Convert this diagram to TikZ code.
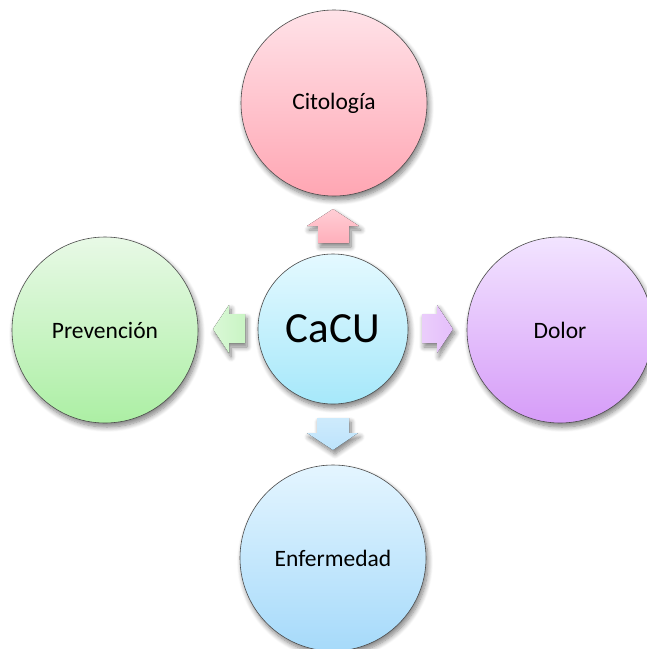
\documentclass[tikz,border=0pt]{standalone}
\usepackage{fontspec}
\setmainfont{Carlito}
\usetikzlibrary{shadows.blur}
\definecolor{pinkA}{HTML}{FFE2E8}
\definecolor{pinkB}{HTML}{FFA6B3}
\definecolor{cyanA}{HTML}{E4F9FF}
\definecolor{cyanB}{HTML}{A6E8FA}
\definecolor{lilaA}{HTML}{F2E4FF}
\definecolor{lilaB}{HTML}{D69CF8}
\definecolor{mintA}{HTML}{E8F9E6}
\definecolor{mintB}{HTML}{ACEFA4}
\definecolor{skyA}{HTML}{E4F5FF}
\definecolor{skyB}{HTML}{A6DAFA}
\begin{document}
\begin{tikzpicture}[x=1pt,y=-1pt,
  softshadow/.style={blur shadow={shadow xshift=2pt, shadow yshift=-4pt,
      shadow blur radius=5pt, shadow blur steps=8, shadow opacity=50}},
  bubble/.style={circle, draw=black!70, line width=0.6pt, minimum size=186pt,
      inner sep=0pt, font=\fontsize{23.5}{27}\selectfont, softshadow},
  hub/.style={bubble, minimum size=150pt, font=\fontsize{43}{48}\selectfont},
  blockarrow/.style={draw=none, softshadow}]
\useasboundingbox (0,0) rectangle (647,649);

% outer topics and the central hub
\node[bubble, top color=pinkA, bottom color=pinkB] (cito) at (334,103) {Citología};
\node[bubble, top color=mintA, bottom color=mintB] (prev) at (105,330) {Prevención};
\node[bubble, top color=lilaA, bottom color=lilaB] (dolor) at (560,330) {Dolor};
\node[bubble, top color=skyA, bottom color=skyB] (enf) at (333,558) {Enfermedad};
\node[hub, top color=cyanA, bottom color=cyanB] (cacu) at (333,329) {CaCU};

% block arrows pointing from the hub to each topic
\fill[blockarrow, top color=pinkB!55, bottom color=pinkB!90]
  (318,243) -- (318,226) -- (307,226) -- (333,209) -- (359,226) -- (349,226) -- (349,243) -- cycle;
\fill[blockarrow, top color=skyB!55, bottom color=skyB!75]
  (317,418) -- (349,418) -- (349,433) -- (358,433) -- (333,450) -- (307,433) -- (317,433) -- cycle;
\fill[blockarrow, left color=mintB!45, right color=mintB!65]
  (245,314) -- (229,314) -- (229,305) -- (213,329) -- (229,353) -- (229,343) -- (245,343) -- cycle;
\fill[blockarrow, left color=lilaB!50, right color=lilaB!65]
  (422,314) -- (437,314) -- (437,305) -- (453,329) -- (437,353) -- (437,343) -- (422,343) -- cycle;
\end{tikzpicture}
\end{document}
